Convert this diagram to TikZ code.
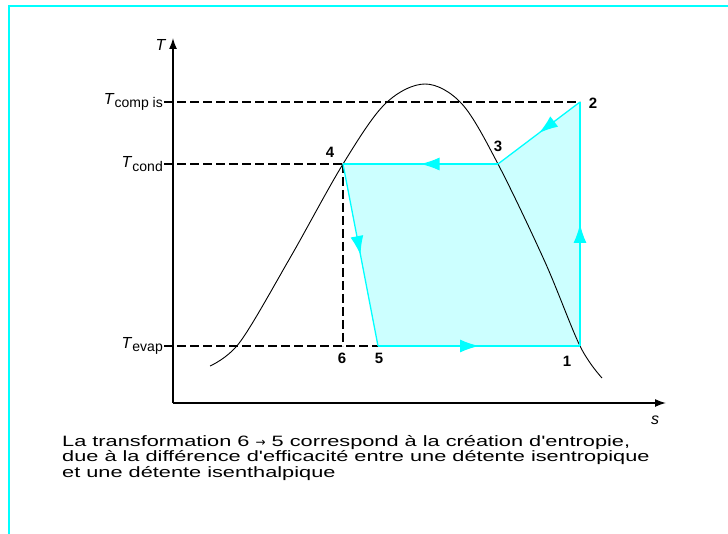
\documentclass[tikz,border=0pt]{standalone}
\usepackage{fontspec}
\setmainfont{Liberation Sans}
\newfontfamily\capfont[FakeStretch=1.45]{Liberation Sans}
\newfontfamily\arrowfont{DejaVu Sans}
\usetikzlibrary{arrows.meta,decorations.markings}
\definecolor{cyclecyan}{HTML}{00FFFF}
\definecolor{cycleshade}{HTML}{CCFFFF}
\newcommand{\Tlab}[1]{\textit{T}\raisebox{-0.45ex}{\fontsize{14}{16}\selectfont #1}}

\begin{document}
\begin{tikzpicture}[x=1pt, y=-1pt, every node/.style={font=\fontsize{16}{18}\selectfont}, dashline/.style={black, line width=1.3pt, dash pattern=on 9pt off 4pt}, axis/.style={black, line width=1.5pt, -{Latex[length=11pt,width=8pt]}}, dome/.style={black, line width=0.9pt}, leg/.style={cyclecyan, line width=1.3pt, postaction={decorate}, decoration={markings, mark=at position 0.5 with {\arrow{Latex[length=19pt,width=13pt]}}}}, num/.style={font=\fontsize{15}{17}\selectfont\bfseries, inner sep=1pt}, level/.style={anchor=east, inner sep=1pt}]
\useasboundingbox (0,0) rectangle (728,534);
\draw[cyclecyan, line width=2pt] (9,534) -- (9,6) -- (728,6);
% axes
\coordinate (o) at (173,403);
\coordinate (ytop) at (173,38);
\coordinate (xend) at (666,403);
\node (tlab) at (161,45) {\textit{T}};
\node (slab) at (655,420) {\textit{s}};
% cycle points
\coordinate (p1) at (580,346);
\coordinate (p2) at (580,102);
\coordinate (p3) at (498,164);
\coordinate (p4) at (343,164);
\coordinate (p5) at (378,346);
\coordinate (p6) at (343,346);
\fill[cycleshade] (p1) -- (p2) -- (p3) -- (p4) -- (p5) -- cycle;
% levels
\node[level] (tcomp) at (164,102) {\Tlab{comp is}};
\node[level] (tcond) at (164,164) {\Tlab{cond}};
\node[level] (tevap) at (164,346) {\Tlab{evap}};
\draw[dashline] (tcomp.east) -- (p2);
\draw[dashline] (tcond.east) -- (p4);
\draw[dashline] (tevap.east) -- (p5);
\draw[dashline] (p4) -- (p6);
\draw[axis] (o) -- (ytop);
\draw[axis] (o) -- (xend);
% saturation dome
\draw[dome] plot[smooth, tension=0.55] coordinates {(210,366) (240,342) (290,258) (343,164) (385,104) (425,84) (462,104) (498,164) (545,262) (580,346) (602,378)};
\draw[leg] (p1) -- (p2);
\draw[leg] (p2) -- (p3);
\draw[leg] (p3) -- (p4);
\draw[leg] (p4) -- (p5);
\draw[leg] (p5) -- (p1);
\node[num] (n1) at (567,361) {1};
\node[num] (n2) at (593,103) {2};
\node[num] (n3) at (498,146) {3};
\node[num] (n4) at (330,152) {4};
\node[num] (n5) at (379,358) {5};
\node[num] (n6) at (342,358) {6};
\node[anchor=north west, align=left, inner sep=0pt, font=\capfont\fontsize{15}{15.5}\selectfont] (caption) at (62,435) {La transformation 6 {\arrowfont\fontsize{12}{15}\selectfont →} 5 correspond à la création d'entropie,\\due à la différence d'efficacité entre une détente isentropique\\et une détente isenthalpique};
\end{tikzpicture}
\end{document}
